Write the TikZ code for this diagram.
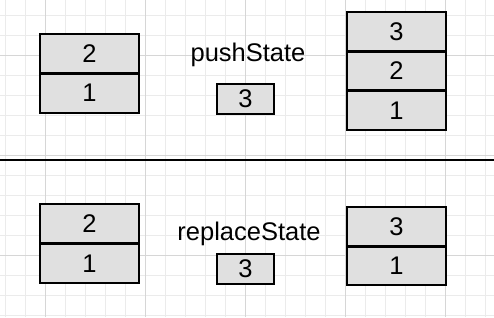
\documentclass[tikz,border=0pt]{standalone}
\usepackage{fontspec}
\setmainfont{Liberation Sans}
\usetikzlibrary{positioning}
\definecolor{cellgray}{HTML}{E0E0E0}
\definecolor{gridminor}{HTML}{EBEBEB}
\definecolor{gridmajor}{HTML}{D6D6D6}
\begin{document}
\begin{tikzpicture}[x=1pt,y=-1pt,
    cell/.style={draw, line width=2.2pt, fill=cellgray, minimum width=99pt,
      minimum height=39.5pt, inner sep=0pt, outer sep=0pt,
      font=\fontsize{25.5}{25.5}\selectfont},
    newcell/.style={cell, minimum width=57pt, minimum height=30pt},
    divider/.style={line width=3.4pt},
    method/.style={anchor=base, inner sep=0pt, font=\fontsize{25.5}{25.5}\selectfont}]
        \useasboundingbox (0,0) rectangle (494,317);
        % Quadricula de fons
        \foreach \x in {5,25,...,485} \draw[gridminor, line width=0.8pt] (\x,0) -- (\x,317);
        \foreach \y in {15,35,...,315} \draw[gridminor, line width=0.8pt] (0,\y) -- (494,\y);
        \foreach \x in {45,145,...,445} \draw[gridmajor, line width=0.8pt] (\x,0) -- (\x,317);
        \foreach \y in {55,155,255} \draw[gridmajor, line width=0.8pt] (0,\y) -- (494,\y);

        % pushState: s'afegeix una entrada nova
        \node[cell] (pushold2) at (89.5,53.5) {2};
        \node[cell] (pushold1) at (89.5,93) {1};
        \node[method] (push) at (248,61) {pushState};
        \node[newcell] (pushnew) at (245.5,99) {3};
        \node[cell] (pushres3) at (396.5,31.5) {3};
        \node[cell] (pushres2) at (396.5,71) {2};
        \node[cell] (pushres1) at (396.5,110.5) {1};
        \draw[divider] (pushold2.south west) -- (pushold2.south east);
        \draw[divider] (pushres3.south west) -- (pushres3.south east);
        \draw[divider] (pushres2.south west) -- (pushres2.south east);

        % Linia separadora
        \coordinate (sepL) at (0,160);
        \coordinate (sepR) at (494,160);
        \draw[line width=2.2pt] (sepL) -- (sepR);

        % replaceState: es substitueix l'entrada actual
        \node[cell] (repold2) at (89.5,224) {2};
        \node[cell] (repold1) at (89.5,263.5) {1};
        \node[method] (replace) at (249,240) {replaceState};
        \node[newcell] (repnew) at (245.5,269) {3};
        \node[cell] (represult3) at (396.5,226.5) {3};
        \node[cell] (represult1) at (396.5,265.5) {1};
        \draw[divider] (repold2.south west) -- (repold2.south east);
        \draw[divider] (represult3.south west) -- (represult3.south east);
    \end{tikzpicture}
\end{document}
